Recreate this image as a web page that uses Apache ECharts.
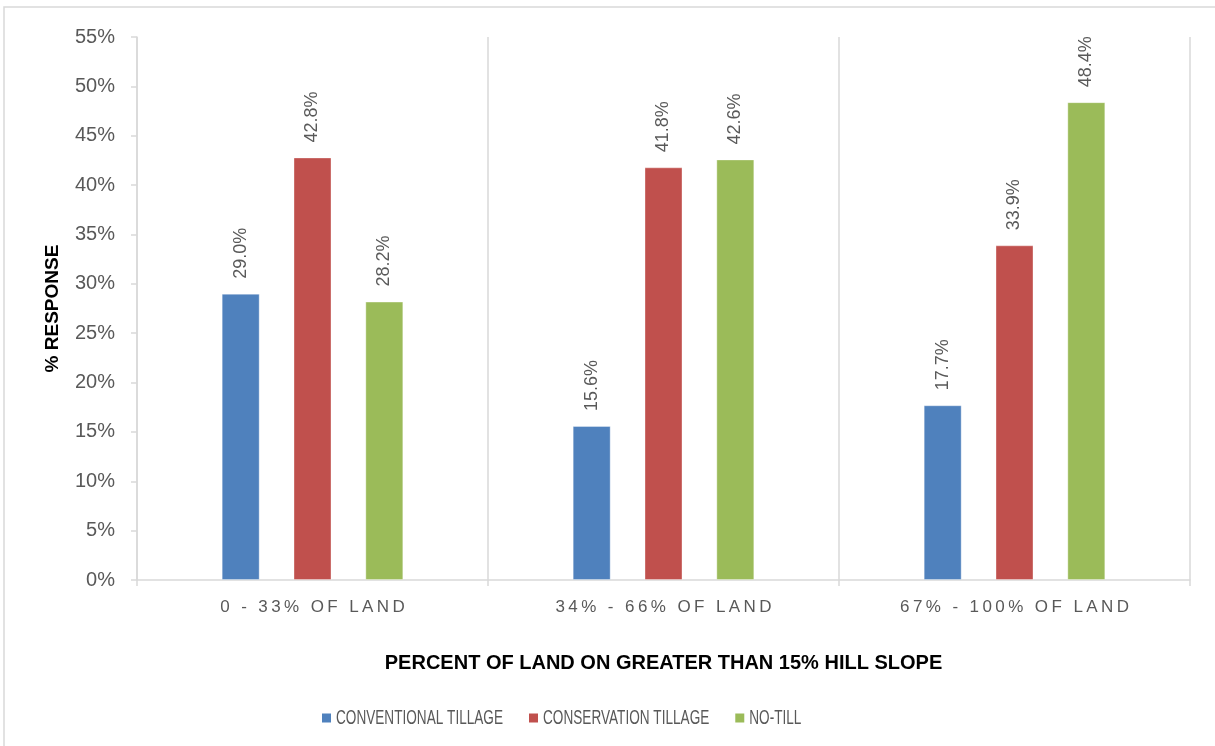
<!DOCTYPE html>
<html>
<head>
<meta charset="utf-8">
<title>Tillage practice by hill slope</title>
<script src="https://cdn.jsdelivr.net/npm/echarts@6/dist/echarts.min.js"></script>
<style>
  html, body { margin: 0; padding: 0; background: #ffffff; }
  #chart { width: 1215px; height: 746px; }
</style>
</head>
<body>
<div id="chart"></div>
<script>
// Share of responses (%) for each tillage practice, grouped by hill-slope share of land
const categories = ['0 - 33% OF LAND', '34% - 66% OF LAND', '67% - 100% OF LAND'];
const seriesNames = ['CONVENTIONAL TILLAGE', 'CONSERVATION TILLAGE', 'NO-TILL'];
const conventionalTillage = [29.0, 15.6, 17.7];
const conservationTillage = [42.8, 41.8, 33.9];
const noTill = [28.2, 42.6, 48.4];
const yTicks = { min: 0, max: 55, step: 5 };

const colors = ['#4F81BD', '#C0504D', '#9BBB59'];
const gray = '#595959';
const lineGray = '#d9d9d9';
const font = '"Liberation Sans", Arial, sans-serif';

// spread capitals apart, like a letter-spaced axis label
const spaced = s => s.split('').join('\u2009');

// Legend: condensed caption text next to a small square swatch
const legendFontSize = 20;
const legendScaleX = 0.68;
const measureCtx = document.createElement('canvas').getContext('2d');
measureCtx.font = legendFontSize + 'px ' + font;

function buildLegend(startX, centerY) {
  const items = [];
  let x = startX;
  seriesNames.forEach((name, i) => {
    items.push({
      type: 'rect',
      shape: { x: x, y: centerY - 4.5, width: 9, height: 9 },
      style: { fill: colors[i] },
      silent: true
    });
    const textX = x + 14;
    items.push({
      type: 'text',
      x: textX,
      y: centerY,
      scaleX: legendScaleX,
      style: {
        text: name,
        x: 0,
        y: 0,
        align: 'left',
        verticalAlign: 'middle',
        fill: gray,
        font: legendFontSize + 'px ' + font
      },
      silent: true
    });
    x = textX + measureCtx.measureText(name).width * legendScaleX + 26;
  });
  return items;
}

const chart = echarts.init(document.getElementById('chart'), null, { renderer: 'canvas' });

function barSeries(name, data, color) {
  return {
    name: name,
    type: 'bar',
    data: data,
    barWidth: 38,
    barGap: '89%',
    itemStyle: { color: color, borderColor: 'rgba(255,255,255,0.35)', borderWidth: 1 },
    label: {
      show: true,
      position: 'top',
      rotate: 90,
      align: 'left',
      verticalAlign: 'middle',
      distance: 15,
      color: gray,
      fontFamily: font,
      fontSize: 18,
      formatter: p => p.value.toFixed(1) + '%'
    }
  };
}

chart.setOption({
  backgroundColor: '#ffffff',
  animation: false,
  graphic: [{
    type: 'rect',
    shape: { x: 4, y: 7, width: 1240, height: 780 },
    style: { fill: 'none', stroke: lineGray, lineWidth: 1.5 },
    silent: true
  }].concat(buildLegend(322, 718)),
  grid: { left: 137, right: 25, top: 37, bottom: 166, containLabel: false },
  xAxis: {
    type: 'category',
    data: categories,
    boundaryGap: true,
    axisLine: { show: true, lineStyle: { color: lineGray, width: 1.5 } },
    axisTick: { show: true, length: 6, lineStyle: { color: lineGray, width: 1.5 } },
    splitLine: { show: true, lineStyle: { color: lineGray, width: 1.5 } },
    axisLabel: {
      color: gray,
      fontFamily: font,
      fontSize: 17,
      margin: 19,
      formatter: v => spaced(v)
    },
    name: 'PERCENT OF LAND ON GREATER THAN 15% HILL SLOPE',
    nameLocation: 'middle',
    nameGap: 73,
    nameTextStyle: { color: '#000000', fontFamily: font, fontWeight: 'bold', fontSize: 20 }
  },
  yAxis: {
    type: 'value',
    min: yTicks.min,
    max: yTicks.max,
    interval: yTicks.step,
    axisLine: { show: true, lineStyle: { color: lineGray, width: 1.5 } },
    axisTick: { show: true, length: 6, lineStyle: { color: lineGray, width: 1.5 } },
    splitLine: { show: false },
    axisLabel: {
      color: gray,
      fontFamily: font,
      fontSize: 20,
      margin: 22,
      formatter: '{value}%'
    },
    name: '% RESPONSE',
    nameLocation: 'middle',
    nameGap: 75,
    nameRotate: 90,
    nameTextStyle: { color: '#000000', fontFamily: font, fontWeight: 'bold', fontSize: 19 }
  },
  series: [
    barSeries(seriesNames[0], conventionalTillage, colors[0]),
    barSeries(seriesNames[1], conservationTillage, colors[1]),
    barSeries(seriesNames[2], noTill, colors[2])
  ]
});
</script>
</body>
</html>
